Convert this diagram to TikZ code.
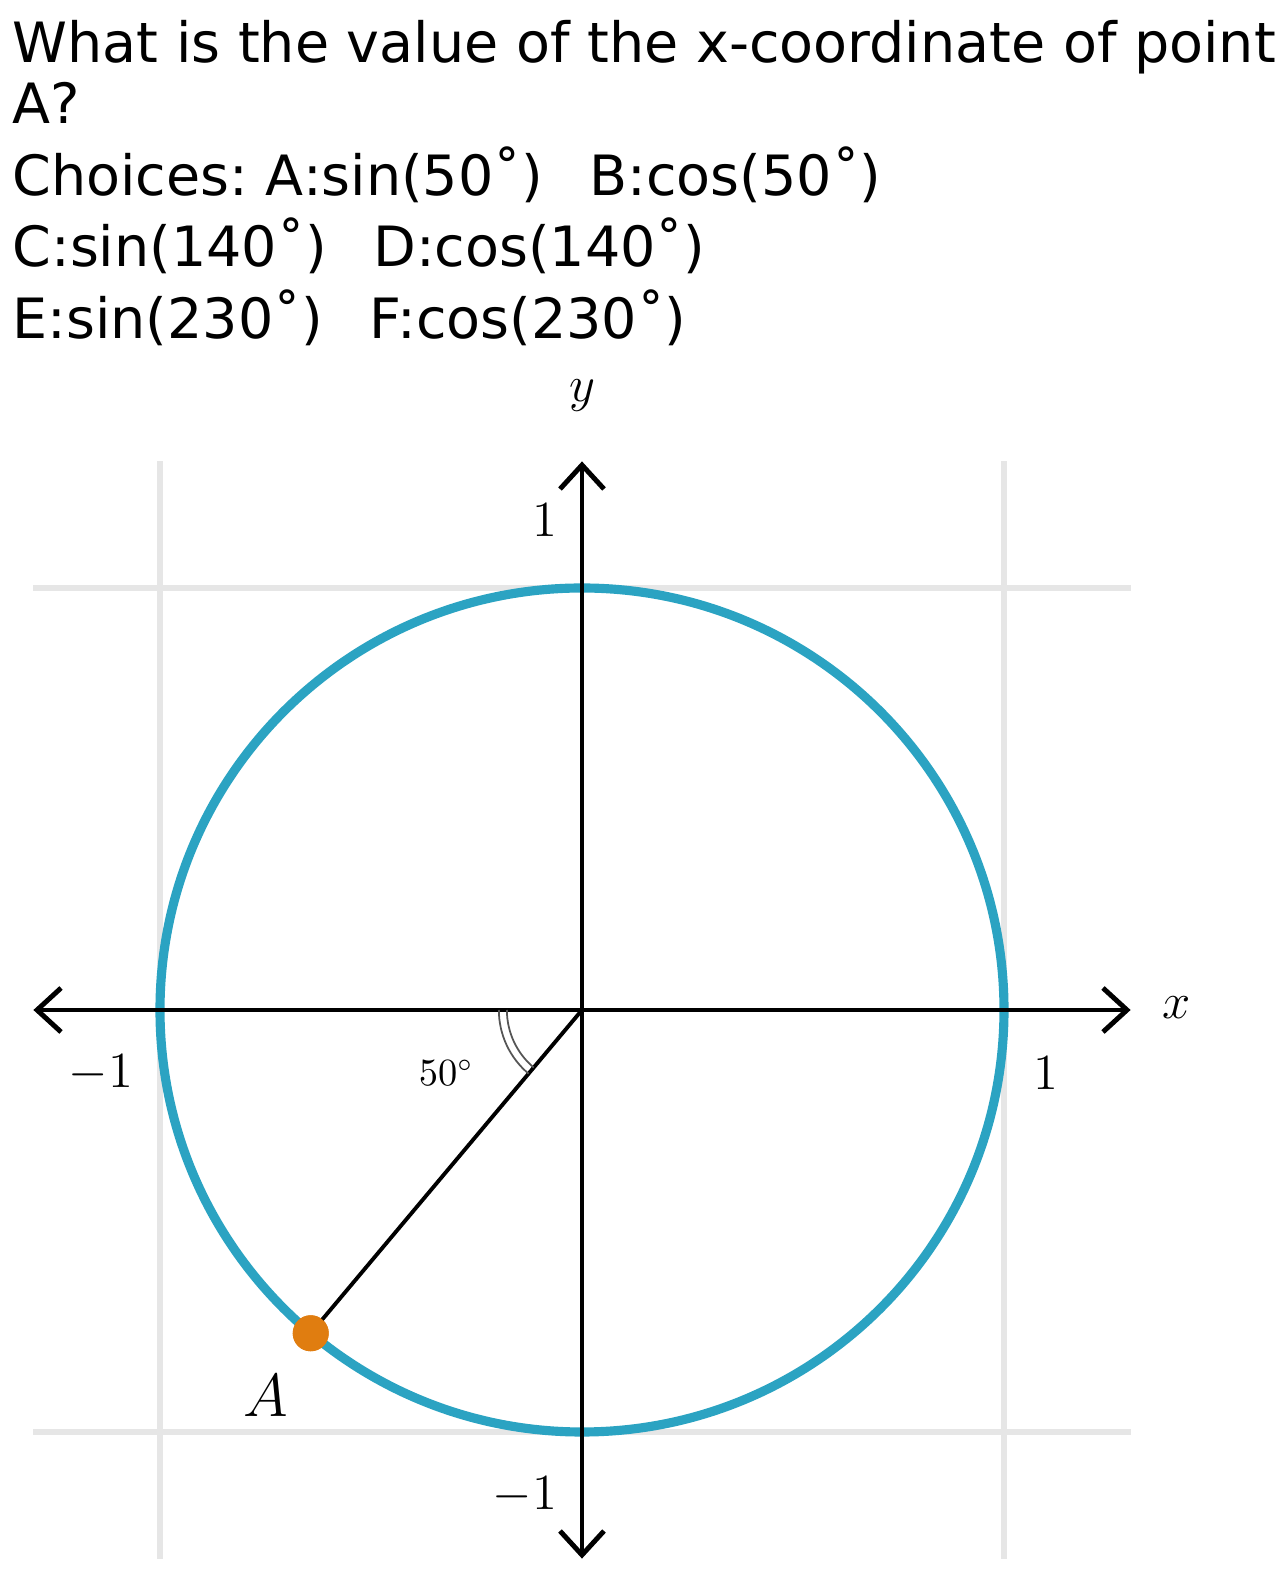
\documentclass[tikz,border=0pt]{standalone}
\usepackage{fontspec}
\setmainfont{DejaVu Sans}
\usepackage{tikz}
\usetikzlibrary{arrows.meta}
\frenchspacing
\definecolor{circc}{HTML}{2BA3C2}
\definecolor{ptc}{HTML}{E07D10}
\definecolor{gridc}{HTML}{E6E6E6}
\definecolor{arcc}{HTML}{555555}
\newcommand{\chgap}{\hspace{0.84em}}
\tikzset{
  ax/.style={{Straight Barb[length=2.4mm,width=4.4mm]}-{Straight Barb[length=2.4mm,width=4.4mm]},line width=1.4pt,black},
  gr/.style={gridc,line width=1.5pt},
  unit/.style={circc,line width=2.6pt},
  rad/.style={black,line width=1.1pt},
  angarc/.style={arcc,line width=0.5pt},
  dotA/.style={circle,fill=ptc,inner sep=0pt,minimum size=3.6mm},
  qline/.style={anchor=base west,inner sep=0pt,font=\fontsize{15.8}{17.6}\selectfont},
  lab/.style={font=\fontsize{15}{18}\selectfont,inner sep=1pt}
}
\begin{document}
\begin{tikzpicture}[x=4.22cm,y=4.22cm]
\useasboundingbox (-1.37915,-1.37678) rectangle (1.66351,2.39336);
% question text
\node[qline] (q1) at (-1.351,2.246) {What is the value of the x-coordinate of point};
\node[qline] (q2) at (-1.351,2.0995) {A?};
\node[qline] (q3) at (-1.351,1.931) {Choices: A:sin(50˚)\chgap B:cos(50˚)};
\node[qline] (q4) at (-1.351,1.761) {C:sin(140˚)\chgap D:cos(140˚)};
\node[qline] (q5) at (-1.351,1.592) {E:sin(230˚)\chgap F:cos(230˚)};
% grid
\foreach \g in {-1,1} {
  \draw[gr] (\g,-1.3) -- (\g,1.3);
  \draw[gr] (-1.3,\g) -- (1.3,\g);
}
% unit circle
\coordinate (O) at (0,0);
\draw[unit] (O) circle[radius=1];
% axes
\coordinate (xl) at (-1.3,0); \coordinate (xr) at (1.3,0);
\coordinate (yb) at (0,-1.3); \coordinate (yt) at (0,1.3);
\draw[ax] (xl) -- (xr);
\draw[ax] (yb) -- (yt);
\node[lab] (xlab) at (1.408,0.005) {$x$};
\node[lab] (ylab) at (0,1.455) {$y$};
\node[lab] (x1) at (1.10,-0.149) {$1$};
\node[lab] (xm1) at (-1.14,-0.149) {$-1$};
\node[lab] (y1) at (-0.088,1.161) {$1$};
\node[lab] (ym1) at (-0.135,-1.149) {$-1$};
% angle and point A
\node[dotA] (A) at (230:1) {};
\draw[rad] (O) -- (A.center);
\node[dotA] at (A) {};
\draw[angarc] (180:0.178) arc (180:230:0.178);
\draw[angarc] (180:0.197) arc (180:230:0.197);
\node[font=\fontsize{10.5}{12}\selectfont,inner sep=0pt] (ang) at (-0.322,-0.149) {$50^\circ$};
\node[lab,font=\fontsize{17}{20}\selectfont] (Alab) at (-0.749,-0.915) {$A$};
\end{tikzpicture}
\end{document}
